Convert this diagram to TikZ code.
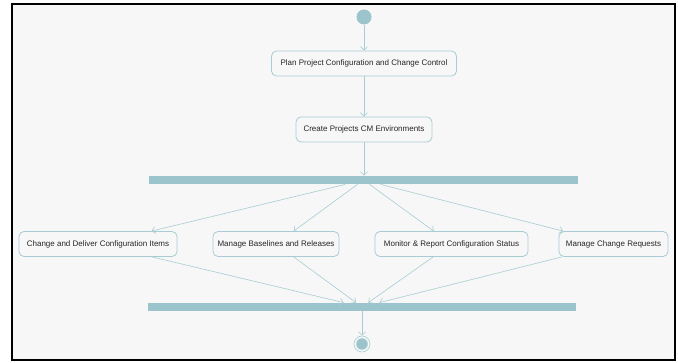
\documentclass[tikz,border=0pt]{standalone}
\usepackage{fontspec}
\setmainfont{Liberation Sans}
\usetikzlibrary{arrows.meta}

\definecolor{flowline}{RGB}{168,204,212}
\definecolor{barfill}{RGB}{155,196,204}
\definecolor{canvas}{RGB}{247,247,247}

\tikzset{every picture/.style={line width=0.75pt}}
\tikzset{
  action/.style={draw=flowline, fill=canvas, rounded corners=5pt, line width=0.8pt,
    minimum height=25pt, inner sep=0pt, font=\fontsize{8}{9.5}\selectfont, text=black!85},
  syncbar/.style={draw=none, fill=barfill, minimum height=8pt, inner sep=0pt},
  flow/.style={draw=flowline, line width=0.6pt, -{Straight Barb[length=3.5pt,width=7pt]}}
}

\begin{document}
\begin{tikzpicture}[x=1pt,y=1pt,yscale=-1,xscale=1]
\useasboundingbox (0,0) rectangle (678,363);

%Frame
\draw [line width=2pt, fill=canvas] (12,4) rectangle (675,360);

%Shape: Circle (start)
\node (start) [circle, fill=barfill, minimum size=15pt, inner sep=0pt] at (364,17) {};

% Text Node
\node (plan) [action, minimum width=185pt] at (364,63.5) {Plan Project Configuration and Change Control};
% Text Node
\node (create) [action, minimum width=136pt] at (364,129.5) {Create Projects CM Environments};

%Shape: Bar (fork)
\node (fork) [syncbar, minimum width=429pt] at (363.5,180) {};

% Text Node
\node (change) [action, minimum width=158pt] at (98,244) {Change and Deliver Configuration Items};
% Text Node
\node (baselines) [action, minimum width=126pt] at (276,244) {Manage Baselines and Releases};
% Text Node
\node (monitor) [action, minimum width=153pt] at (451.5,244) {Monitor \& Report Configuration Status};
% Text Node
\node (requests) [action, minimum width=109pt] at (613.5,244) {Manage Change Requests};

%Shape: Bar (join)
\node (join) [syncbar, minimum width=428pt] at (362,307) {};

%Shape: Circle (end)
\node (finish) [circle, draw=flowline, fill=canvas, line width=0.6pt, minimum size=16pt, inner sep=0pt] at (362,344) {};
\node (finishdot) [circle, fill=barfill, minimum size=11.5pt, inner sep=0pt] at (finish) {};

%Straight Lines
\draw [flow] (start) -- (plan);
\draw [flow] (plan) -- (create);
\draw [flow] (create) -- (create |- fork.north);
\draw [flow] (fork) -- (change);
\draw [flow] (fork) -- (baselines);
\draw [flow] (fork) -- (monitor);
\draw [flow] (fork) -- (requests);
\draw [flow] (change) -- (join);
\draw [flow] (baselines) -- (join);
\draw [flow] (monitor) -- (join);
\draw [flow] (requests) -- (join);
\draw [flow] (join) -- (finish);

\end{tikzpicture}
\end{document}
